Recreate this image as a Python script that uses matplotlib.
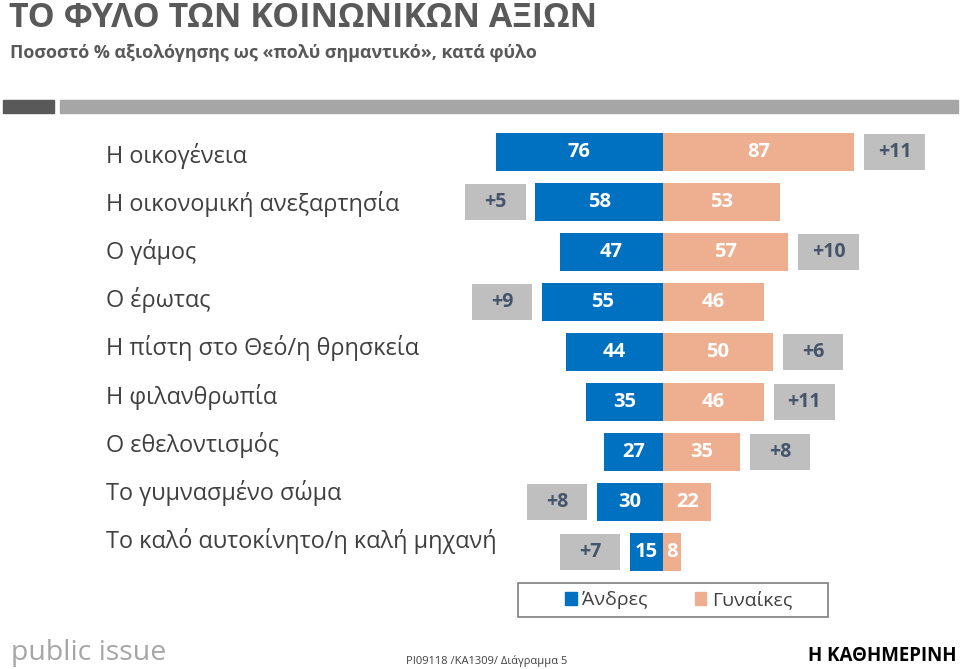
import matplotlib.pyplot as plt
from matplotlib.patches import Rectangle, Patch

# Data
categories = [
    "Η οικογένεια",
    "Η οικονομική ανεξαρτησία",
    "Ο γάμος",
    "Ο έρωτας",
    "Η πίστη στο Θεό/η θρησκεία",
    "Η φιλανθρωπία",
    "Ο εθελοντισμός",
    "Το γυμνασμένο σώμα",
    "Το καλό αυτοκίνητο/η καλή μηχανή",
]
men = [76, 58, 47, 55, 44, 35, 27, 30, 15]
women = [87, 53, 57, 46, 50, 46, 35, 22, 8]
series_names = ["Άνδρες", "Γυναίκες"]

BLUE = "#0070C0"
SALMON = "#EDAF8F"
BOX = "#BFBFBF"
BOX_TEXT = "#44546A"
DARK = "#404040"

plt.rcParams["font.family"] = ["Open Sans", "DejaVu Sans"]

W, H = 960, 669
fig = plt.figure(figsize=(W / 100, H / 100), dpi=100)


def fx(px):
    return px / W


def fy(py):
    return 1 - py / H


# title block
fig.text(fx(9), fy(18), "ΤΟ ΦΥΛΟ ΤΩΝ ΚΟΙΝΩΝΙΚΩΝ ΑΞΙΩΝ", fontsize=24.5,
         fontweight="bold", color="#595959", va="center", ha="left")
fig.text(fx(10), fy(53), "Ποσοστό % αξιολόγησης ως «πολύ σημαντικό», κατά φύλο",
         fontsize=12.9, fontweight="bold", color="#595959",
         va="center", ha="left")
fig.patches.append(Rectangle((fx(3), fy(113)), fx(51), 13 / H, color="#595959",
                             transform=fig.transFigure))
fig.patches.append(Rectangle((fx(60), fy(113)), fx(898), 13 / H, color="#A6A6A6",
                             transform=fig.transFigure))

# bars: 2.2 px per percentage point, rows 50 px apart, centre line at x=663
ax = fig.add_axes([fx(460), fy(580), fx(960) - fx(460), fy(125) - fy(580)])
ax.set_xlim((460 - 663) / 2.2, (960 - 663) / 2.2)
ax.set_ylim(8.56, -0.54)
ax.axis("off")

rows = range(len(categories))
ax.barh(rows, [-m for m in men], height=0.77, color=BLUE)
ax.barh(rows, women, height=0.77, color=SALMON)

gap, box_w = 4.5, 27.5
for i in rows:
    ax.text(-men[i] / 2, i, str(men[i]), ha="center", va="center",
            color="white", fontsize=14.5, fontweight="bold")
    ax.text(women[i] / 2, i, str(women[i]), ha="center", va="center",
            color="white", fontsize=14.5, fontweight="bold")
    d = women[i] - men[i]
    left = women[i] + gap if d > 0 else -men[i] - gap - box_w
    ax.barh(i, box_w, left=left, height=0.72, color=BOX)
    ax.text(left + box_w / 2, i, f"+{abs(d)}", ha="center", va="center",
            color=BOX_TEXT, fontsize=14, fontweight="bold")

# category labels
for i, cat in enumerate(categories):
    fig.text(fx(106), fy(156 + 48.1 * i), cat, fontsize=16.9, color=DARK,
             ha="left", va="center")

# legend (frame drawn separately, it is wider on the left in the reference)
fig.patches.append(Rectangle((fx(518), fy(617)), fx(310), 34 / H, fill=False,
                             edgecolor="#7F7F7F", linewidth=1.2,
                             transform=fig.transFigure))
handles = [Patch(color=BLUE, label=series_names[0]),
           Patch(color=SALMON, label=series_names[1])]
fig.legend(handles=handles, loc="center left", ncol=2,
           bbox_to_anchor=(fx(565), fy(600)), frameon=False, fontsize=14,
           handlelength=0.6, handleheight=0.6, handletextpad=0.3,
           columnspacing=2.4, borderpad=0, borderaxespad=0,
           labelcolor=DARK)

# footer
fig.text(fx(11), fy(653), "public issue", fontsize=20.5, color="#A6A6A6",
         ha="left", va="center")
fig.text(fx(487), fy(661), "PI09118 /KA1309/ Διάγραμμα 5", fontsize=8,
         color=DARK, ha="center", va="center")
fig.text(fx(957), fy(656), "Η ΚΑΘΗΜΕΡΙΝΗ", fontsize=13.5,
         fontweight="bold", color="black", ha="right", va="center")

fig.savefig("out.png", dpi=100)
